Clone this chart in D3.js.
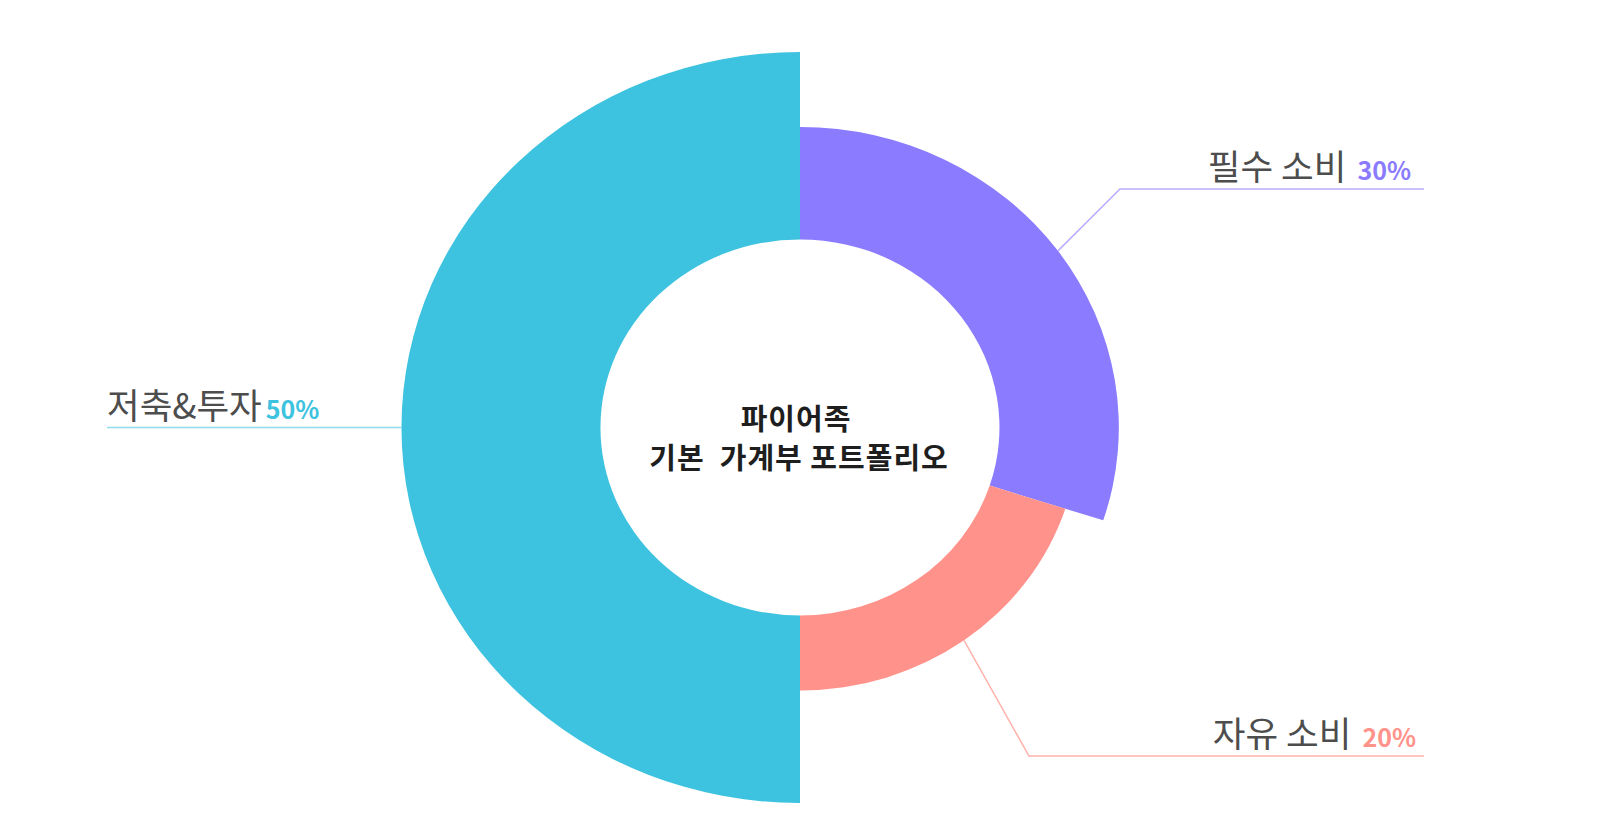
<!DOCTYPE html>
<html>
<head>
<meta charset="utf-8">
<script src="https://cdn.jsdelivr.net/npm/d3@7"></script>
<style>
  body { margin: 0; background: #fff; }
  svg { display: block; font-family: "Noto Sans CJK KR", "Noto Sans", sans-serif; }
  text { white-space: pre; }
</style>
</head>
<body>
<svg id="chart" width="1600" height="840"></svg>
<script>
// data
const categories = ["필수 소비", "자유 소비", "저축&투자"];
const values = [30, 20, 50];
const colors = ["#8a7bff", "#ff928a", "#3dc2df"];
const lineColors = ["#b8aeff", "#ffb2ab", "#8fdcec"];
const centerTitle = ["파이어족", "기본  가계부 포트폴리오"];

const svg = d3.select("#chart");
const cx = 800, cy = 427.5;
const sx = 1.061; // chart is a bit wider than tall

const innerR = 188;
const rScale = d3.scaleLinear().domain([0, 50]).range([innerR, 375.5]);

const pie = d3.pie().sort(null).value(d => d.value);
const arcs = pie(categories.map((c, i) => ({ name: c, value: values[i], i })));

const arc = d3.arc()
    .innerRadius(innerR)
    .outerRadius(d => rScale(d.data.value));

svg.append("g")
    .attr("transform", `translate(${cx},${cy}) scale(${sx},1)`)
    .selectAll("path")
    .data(arcs)
    .join("path")
    .attr("d", arc)
    .attr("fill", d => colors[d.data.i]);

// label layout: elbow x, label line y, line end x, text x, gap before %, side
const labelLayout = [
    { elbowX: 1120, y: 189, endX: 1424, textX: 1411, gap: 11, side: "right" },
    { elbowX: 1029, y: 756, endX: 1424, textX: 1416, gap: 11, side: "right" },
    { elbowX: 390, y: 427.5, endX: 107, textX: 107, gap: 4, side: "left" }
];

function outerPoint(d) {
    const a = (d.startAngle + d.endAngle) / 2;
    const r = rScale(d.data.value);
    return [cx + Math.sin(a) * r * sx, cy - Math.cos(a) * r];
}

const labels = svg.append("g");

arcs.forEach(d => {
    const L = labelLayout[d.data.i];
    const p0 = outerPoint(d);
    labels.append("path")
        .attr("d", d3.line()([p0, [L.elbowX, L.y], [L.endX, L.y]]))
        .attr("fill", "none")
        .attr("stroke", lineColors[d.data.i])
        .attr("stroke-width", 1.5);

    const t = labels.append("text")
        .attr("y", L.y - 9)
        .attr("x", L.textX)
        .attr("text-anchor", L.side === "right" ? "end" : "start");
    t.append("tspan")
        .attr("font-size", 35.5)
        .attr("fill", "#4d4d4d")
        .text(d.data.name);
    t.append("tspan")
        .attr("dx", L.gap)
        .attr("font-size", 25)
        .attr("font-weight", "bold")
        .attr("fill", colors[d.data.i])
        .text(d.data.value + "%");
});

// center title
svg.append("g")
    .selectAll("text")
    .data(centerTitle)
    .join("text")
    .attr("x", (d, i) => cx - 4 + i * 3)
    .attr("y", (d, i) => 430 + i * 39)
    .attr("text-anchor", "middle")
    .attr("font-size", 29)
    .attr("letter-spacing", 1)
    .attr("font-weight", "bold")
    .attr("fill", "#1e1e1e")
    .text(d => d);
</script>
</body>
</html>
